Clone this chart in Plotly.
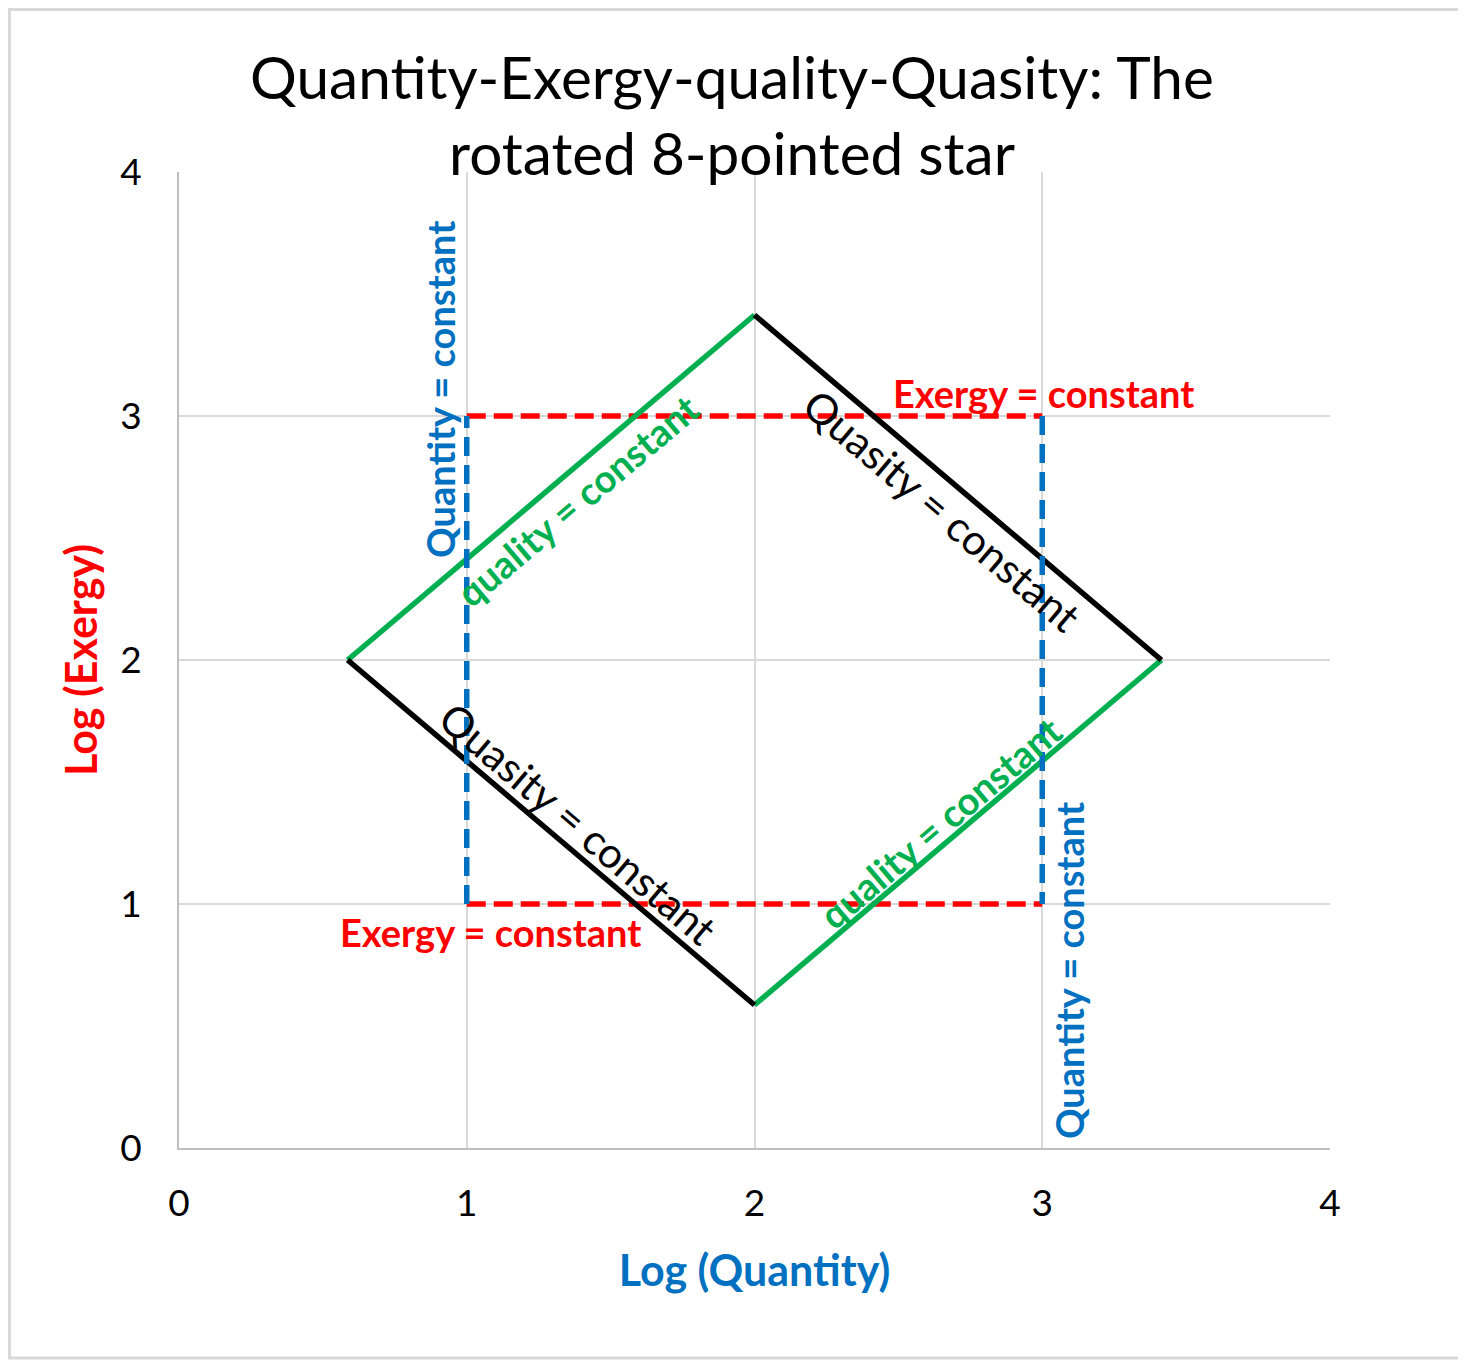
import plotly.graph_objects as go

# ---- data ----
quality_upper_x = [0.586, 2.0]
quality_upper_y = [2.0, 3.414]
quality_lower_x = [2.0, 3.414]
quality_lower_y = [0.586, 2.0]
quasity_upper_x = [2.0, 3.414]
quasity_upper_y = [3.414, 2.0]
quasity_lower_x = [0.586, 2.0]
quasity_lower_y = [2.0, 0.586]
exergy_top_x = [1.0, 3.0]
exergy_top_y = [3.0, 3.0]
exergy_bot_x = [1.0, 3.0]
exergy_bot_y = [1.0, 1.0]
quantity_left_x = [1.0, 1.0]
quantity_left_y = [1.0, 3.0]
quantity_right_x = [3.0, 3.0]
quantity_right_y = [3.0, 1.0]
tick_vals = [0, 1, 2, 3, 4]
tick_text = ["0", "1", "2", "3", "4"]

GREEN = "#00B050"
BLACK = "#000000"
RED = "#FF0000"
BLUE = "#0070C0"
FONT = "Lato"

# page has an 8px body margin; figure is sized so it ends at the window edge
W, H = 1458, 1353
ML, MR, MT, MB = 171, 136, 164, 213

fig = go.Figure()

def add_line(x, y, color, width, dash="solid"):
    fig.add_trace(go.Scatter(x=x, y=y, mode="lines",
                             line=dict(color=color, width=width, dash=dash),
                             hoverinfo="skip", showlegend=False))

add_line(exergy_top_x, exergy_top_y, RED, 5.5, "19px,8px")
add_line(exergy_bot_x, exergy_bot_y, RED, 5.5, "19px,8px")
add_line(quality_upper_x, quality_upper_y, GREEN, 5.5)
add_line(quality_lower_x, quality_lower_y, GREEN, 5.5)
add_line(quasity_upper_x, quasity_upper_y, BLACK, 5.5)
add_line(quasity_lower_x, quasity_lower_y, BLACK, 5.5)
add_line(quantity_left_x, quantity_left_y, BLUE, 5.5, "19px,9px")
add_line(quantity_right_x, quantity_right_y, BLUE, 5.5, "19px,9px")

ANN = 38
annotations = [
    dict(x=0.907, y=3.111, text="<b>Quantity = constant</b>", textangle=-90,
         font=dict(color=BLUE, size=ANN, family=FONT)),
    dict(x=3.093, y=0.725, text="<b>Quantity = constant</b>", textangle=-90,
         font=dict(color=BLUE, size=ANN, family=FONT)),
    dict(x=3.003, y=3.094, text="<b>Exergy = constant</b>", textangle=0,
         font=dict(color=RED, size=ANN, family=FONT)),
    dict(x=1.084, y=0.885, text="<b>Exergy = constant</b>", textangle=0,
         font=dict(color=RED, size=ANN, family=FONT)),
    dict(x=1.383, y=2.656, text="<b>quality = constant</b>", textangle=-40.3,
         font=dict(color=GREEN, size=ANN, family=FONT)),
    dict(x=2.645, y=1.336, text="<b>quality = constant</b>", textangle=-40.3,
         font=dict(color=GREEN, size=ANN, family=FONT)),
    dict(x=2.652, y=2.615, text="Quasity = constant", textangle=40.3,
         font=dict(color=BLACK, size=42, family=FONT)),
    dict(x=1.387, y=1.332, text="Quasity = constant", textangle=40.3,
         font=dict(color=BLACK, size=42, family=FONT)),
]
for a in annotations:
    a.update(xref="x", yref="y", showarrow=False, xanchor="center", yanchor="middle")

pw = W - ML - MR
ph = H - MT - MB
# outer chart border (pixel positions within the figure)
bx0 = (1.5 - ML) / pw
bx1 = (1455 - ML) / pw
by1 = (H - MB - 1.5) / ph
by0 = (H - MB - 1350) / ph

fig.update_layout(
    width=W, height=H,
    margin=dict(l=ML, r=MR, t=MT, b=MB, pad=0),
    paper_bgcolor="white", plot_bgcolor="white",
    font=dict(family=FONT, color="#000000"),
    title=dict(text="Quantity-Exergy-quality-Quasity: The<br>rotated 8-pointed star",
               x=(732 - 8) / W, xref="container", xanchor="center",
               y=1 - 91 / H, yref="container", yanchor="middle",
               font=dict(size=58.5, family=FONT, color="#000000")),
    xaxis=dict(range=[0, 4], tickvals=tick_vals, ticktext=tick_text,
               showgrid=True, gridcolor="#D9D9D9", gridwidth=2,
               zeroline=False, showline=True, linecolor="#BFBFBF", linewidth=2,
               ticks="", ticklabelstandoff=22,
               tickfont=dict(size=37, family=FONT, color="#000000"),
               title=dict(text="<b>Log (Quantity)</b>", standoff=32,
                          font=dict(size=43, family=FONT, color=BLUE))),
    yaxis=dict(range=[0, 4], tickvals=tick_vals, ticktext=tick_text,
               showgrid=True, gridcolor="#D9D9D9", gridwidth=2,
               zeroline=False, showline=True, linecolor="#BFBFBF", linewidth=2,
               ticks="", ticklabelstandoff=28,
               tickfont=dict(size=37, family=FONT, color="#000000"),
               title=dict(text="<b>Log (Exergy)</b>", standoff=9,
                          font=dict(size=43, family=FONT, color=RED))),
    annotations=annotations,
    shapes=[dict(type="rect", xref="paper", yref="paper",
                 x0=bx0, x1=bx1, y0=by0, y1=by1,
                 line=dict(color="#D9D9D9", width=3), fillcolor="rgba(0,0,0,0)",
                 layer="above")],
    showlegend=False,
)

fig.write_html("out.html")
